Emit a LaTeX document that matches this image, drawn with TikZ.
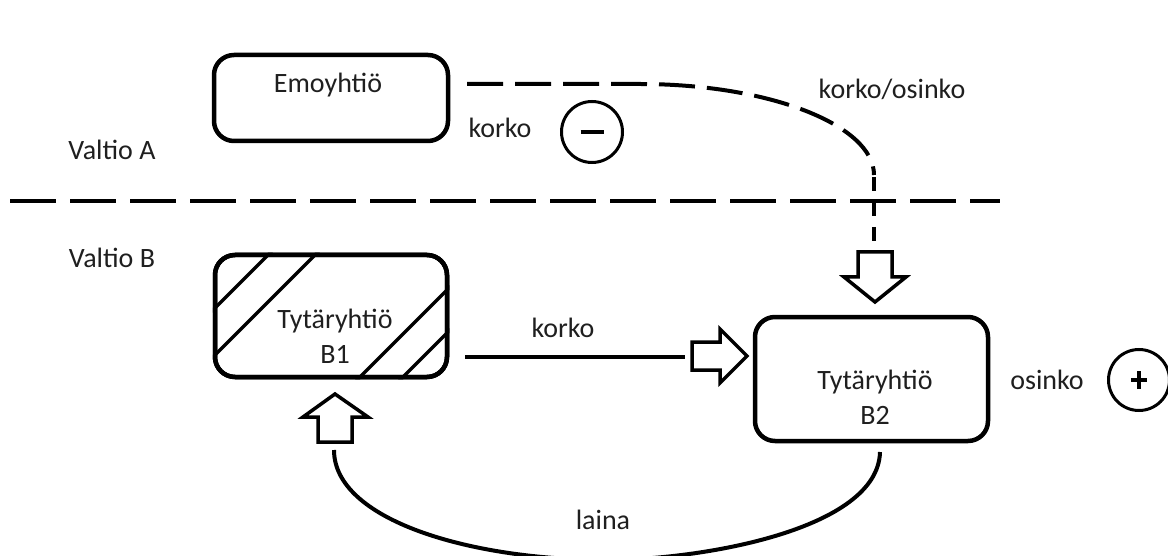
\documentclass[tikz,border=0pt]{standalone}
\usepackage{fontspec}
\setmainfont{Carlito}
\begin{document}
\begin{tikzpicture}[x=1pt,y=-1pt,
  box/.style={draw, line width=4.5pt, rounded corners=20pt, inner sep=0pt},
  lbl/.style={font=\fontsize{28}{35}\selectfont, text=black!88, inner sep=0pt, align=center},
  hollow/.style={draw, line width=3.5pt, fill=white, line join=miter},
  hatch/.style={line width=3.5pt},
  sign/.style={draw, circle, line width=3pt, minimum size=61pt, inner sep=0pt},
  signbar/.style={line width=4pt},
  border/.style={line width=4pt, dash pattern=on 46pt off 14pt},
  flowdash/.style={line width=4pt, dash pattern=on 36pt off 12pt},
  flowdot/.style={line width=4pt, dash pattern=on 14pt off 11pt},
  flow/.style={line width=3.5pt},
  loan/.style={line width=4pt}]

\useasboundingbox (0,0) rectangle (1168,556);

% boxes
\node[box, minimum width=234pt, minimum height=86pt] (emo) at (331,98) {};
\node[box, minimum width=232pt, minimum height=122pt] (B1) at (331,316) {};
\node[box, minimum width=233pt, minimum height=124pt] (B2) at (871.5,379) {};

% hatching of the first subsidiary
\begin{scope}
  \clip[rounded corners=20pt] (B1.north west) rectangle (B1.south east);
  \foreach \c in {523,570,737,780}
    \draw[hatch] ({\c-400},400) -- ({\c-240},240);
\end{scope}
\draw[line width=4.5pt, rounded corners=20pt]
  ([xshift=2.25pt,yshift=-2.25pt]B1.north west) rectangle ([xshift=-2.25pt,yshift=2.25pt]B1.south east);

% box texts
\node[lbl] (emoT) at (328,85) {Emoyhtiö};
\node[lbl] (B1T) at (335,336) {Tytäryhtiö\\B1};
\node[lbl] (B2T) at (875,397) {Tytäryhtiö\\B2};

% country labels and border
\node[lbl] (valA) at (112,150) {Valtio A};
\node[lbl] (valB) at (112,258) {Valtio B};
\coordinate (bl) at (10,201);
\coordinate (br) at (1000,201);
\draw[border] (bl) -- (br);

% interest / dividend from the parent
\coordinate (f0) at (467,84);
\coordinate (f1) at (640,84);
\coordinate (f2) at (874,175);
\coordinate (f3) at (874,177);
\coordinate (f4) at (874,246);
\draw[flowdash] (f0) -- (f1) .. controls (769,84) and (874,125) .. (f2);
\draw[flowdot] (f3) -- (f4);
\draw[hollow] (858,252) -- (892,252) -- (892,277) -- (906,277) -- (875,302)
  -- (844,277) -- (858,277) -- cycle;

\node[lbl] (kA) at (500,128) {korko};
\node[sign] (minus) at (592,132) {};
\draw[signbar] ([xshift=-11.5pt]minus.center) -- ([xshift=11.5pt]minus.center);
\node[lbl] (ko) at (892,89) {korko/osinko};

% interest B1 -> B2
\coordinate (k0) at (465,357);
\coordinate (k1) at (685,357);
\draw[flow] (k0) -- (k1);
\draw[hollow] (692,342) -- (720,342) -- (720,329) -- (747,356) -- (720,383)
  -- (720,370) -- (692,370) -- cycle;
\node[lbl] (kB) at (563,328) {korko};

% dividend
\node[lbl] (os) at (1047,380) {osinko};
\node[sign] (plus) at (1139,380) {};
\draw[signbar] ([xshift=-8pt]plus.center) -- ([xshift=8pt]plus.center);
\draw[signbar] ([yshift=-9pt]plus.center) -- ([yshift=9pt]plus.center);

% loan B2 -> B1
\coordinate (l0) at (880,452);
\coordinate (lm) at (607,560);
\coordinate (l1) at (334,450);
\draw[loan] (l0) .. controls (878,530) and (700,560) .. (lm)
  .. controls (470,560) and (334,520) .. (l1);
\draw[hollow] (318,442) -- (318,417) -- (303,417) -- (335,394) -- (368,417)
  -- (352,417) -- (352,442) -- cycle;
\node[lbl] (laina) at (603,520) {laina};
\end{tikzpicture}
\end{document}
